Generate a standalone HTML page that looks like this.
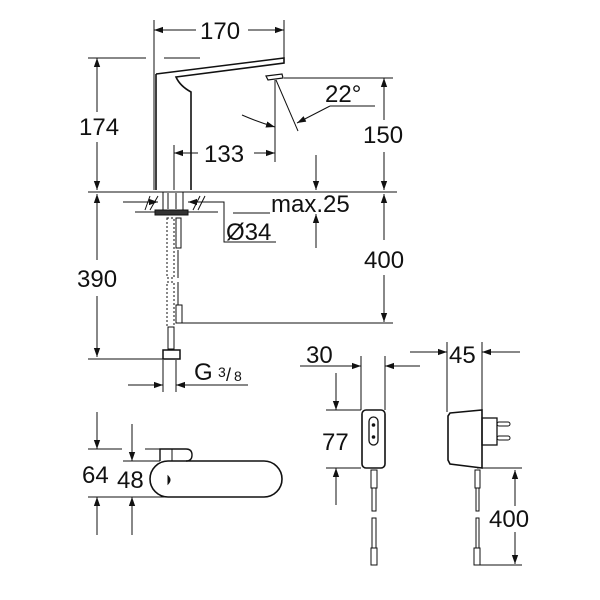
<!DOCTYPE html>
<html><head><style>body{margin:0;background:#fff}svg{display:block}text{font-family:"Liberation Sans",sans-serif;fill:#111}</style></head>
<body>
<svg width="600" height="600" viewBox="0 0 600 600" xmlns="http://www.w3.org/2000/svg">
<defs>
<marker id="a" viewBox="0 0 10 10" refX="10" refY="5" markerWidth="9" markerHeight="9" orient="auto-start-reverse" markerUnits="userSpaceOnUse"><path d="M0,1.5 L10,5 L0,8.5z" fill="#111"/></marker>
</defs>
<g stroke="#111" stroke-width="1" fill="none">
<line x1="154" y1="20" x2="154" y2="190"/><line x1="284" y1="20" x2="284" y2="60"/>
<line x1="154" y1="30" x2="196" y2="30" marker-start="url(#a)"/><line x1="248" y1="30" x2="284" y2="30" marker-end="url(#a)"/>
<path d="M156,74 L284,58 L284,63 L176,77 Q180,86 191,92 L191,190" stroke-width="1.6"/>
<path d="M156,74 L156,190" stroke-width="1.6"/>
<path d="M266,76 L282,74 L283,78 L268,80z" stroke-width="1.2"/>
<line x1="88" y1="58" x2="146" y2="58"/><line x1="164" y1="58" x2="200" y2="58"/>
<line x1="97" y1="58" x2="97" y2="112" marker-start="url(#a)"/><line x1="97" y1="142" x2="97" y2="190" marker-end="url(#a)"/>
<line x1="88" y1="192" x2="397" y2="192"/>
<line x1="284" y1="78" x2="393" y2="78"/>
<line x1="384" y1="78" x2="384" y2="120" marker-start="url(#a)"/><line x1="384" y1="152" x2="384" y2="190" marker-end="url(#a)"/>
<line x1="276" y1="80" x2="298" y2="131"/>
<line x1="375" y1="106" x2="330" y2="106"/><line x1="330" y1="106" x2="297" y2="123" marker-end="url(#a)"/>
<path d="M242,115 Q258,122 275,127" marker-end="url(#a)"/>
<line x1="275" y1="80" x2="275" y2="162"/><line x1="174" y1="145" x2="174" y2="190"/>
<line x1="174" y1="153" x2="198" y2="153" marker-start="url(#a)"/><line x1="254" y1="153" x2="275" y2="153" marker-end="url(#a)"/>
<line x1="316" y1="155" x2="316" y2="190" marker-end="url(#a)"/>
<line x1="316" y1="248" x2="316" y2="214" marker-end="url(#a)"/>
<line x1="233" y1="213" x2="270" y2="213"/>
<line x1="384" y1="194" x2="384" y2="240" marker-start="url(#a)"/><line x1="384" y1="275" x2="384" y2="322" marker-end="url(#a)"/>
<line x1="182" y1="323" x2="393" y2="323"/>
<line x1="97" y1="194" x2="97" y2="260" marker-start="url(#a)"/><line x1="97" y1="296" x2="97" y2="357" marker-end="url(#a)"/>
<line x1="88" y1="359" x2="180" y2="359"/>
<line x1="135" y1="192" x2="210" y2="192"/><line x1="135" y1="212" x2="218" y2="212"/>
<rect x="163" y="192" width="20" height="18"/>
<line x1="168" y1="193" x2="168" y2="209"/><line x1="176" y1="193" x2="176" y2="209"/>
<rect x="155" y="210" width="33" height="5" fill="#333"/>
<line x1="123" y1="202" x2="158" y2="202" marker-end="url(#a)"/>
<line x1="220" y1="202" x2="188" y2="202" marker-end="url(#a)"/>
<path d="M145,210 L150,196 M150,210 L158,196 M193,210 L200,196 M198,210 L205,196"/>
<path d="M205,202 L224,202 L224,242 L276,242"/>
<rect x="167" y="218" width="7" height="60" stroke-dasharray="2,2"/><rect x="167" y="282" width="7" height="45" stroke-dasharray="2,2"/>
<rect x="176" y="218" width="5" height="30"/><line x1="178" y1="250" x2="178" y2="278"/><line x1="178" y1="282" x2="178" y2="305"/>
<rect x="176" y="305" width="6" height="18"/>
<rect x="168" y="327" width="6" height="22"/>
<rect x="163" y="350" width="17" height="9" stroke-width="1.5"/>
<line x1="163" y1="360" x2="163" y2="392"/><line x1="176" y1="360" x2="176" y2="392"/>
<line x1="128" y1="385" x2="163" y2="385" marker-end="url(#a)"/><line x1="248" y1="385" x2="176" y2="385" marker-end="url(#a)"/>
<line x1="88" y1="449" x2="122" y2="449"/><line x1="145" y1="449" x2="160" y2="449"/>
<line x1="123" y1="461" x2="160" y2="461"/>
<line x1="88" y1="497" x2="175" y2="497"/>
<line x1="97" y1="412" x2="97" y2="449" marker-end="url(#a)"/><line x1="97" y1="535" x2="97" y2="497" marker-end="url(#a)"/>
<line x1="132" y1="424" x2="132" y2="461" marker-end="url(#a)"/><line x1="132" y1="535" x2="132" y2="497" marker-end="url(#a)"/>
<rect x="150" y="461" width="132" height="36" rx="18" stroke-width="1.6"/>
<path d="M160,461 L160,449 L186,449 Q192,449 192,455 Q192,461 186,461" stroke-width="1.4"/>
<line x1="172" y1="449" x2="172" y2="461"/>
<path d="M168,476 L168,484 Q172,480 168,476z" fill="#111"/>
<line x1="361" y1="356" x2="361" y2="410"/><line x1="385" y1="356" x2="385" y2="410"/>
<line x1="300" y1="366" x2="361" y2="366" marker-end="url(#a)"/><line x1="420" y1="366" x2="385" y2="366" marker-end="url(#a)"/>
<line x1="326" y1="410" x2="361" y2="410"/><line x1="326" y1="468" x2="361" y2="468"/>
<line x1="336" y1="373" x2="336" y2="410" marker-end="url(#a)"/><line x1="336" y1="505" x2="336" y2="468" marker-end="url(#a)"/>
<rect x="362" y="410" width="23" height="58" rx="4" stroke-width="1.6"/>
<rect x="369" y="417" width="9" height="28" rx="4.5" stroke-width="1.3"/>
<circle cx="373.5" cy="425" r="1.3" fill="#111"/><circle cx="373.5" cy="437" r="1.3" fill="#111"/>
<rect x="371" y="470" width="6" height="18"/>
<rect x="372" y="488" width="4" height="23"/>
<rect x="372" y="518" width="4" height="30"/>
<rect x="371" y="548" width="6" height="17"/>
<line x1="447" y1="342" x2="447" y2="412"/><line x1="482" y1="342" x2="482" y2="412"/>
<line x1="410" y1="352" x2="447" y2="352" marker-end="url(#a)"/><line x1="520" y1="352" x2="482" y2="352" marker-end="url(#a)"/>
<path d="M450,413 L482,410 L482,468 L450,464 L448,460 L448,416z" stroke-width="1.6"/>
<rect x="482" y="418" width="15" height="27" stroke-width="1.3"/>
<rect x="497" y="422" width="13" height="4" rx="2"/><rect x="497" y="436" width="13" height="4" rx="2"/>
<line x1="477" y1="468" x2="522" y2="468"/><line x1="477" y1="565" x2="522" y2="565"/>
<rect x="475" y="470" width="5" height="18"/>
<rect x="476" y="488" width="3" height="23"/><rect x="476" y="518" width="3" height="30"/>
<rect x="474" y="548" width="6" height="17"/>
<line x1="515" y1="470" x2="515" y2="506" marker-start="url(#a)"/><line x1="515" y1="532" x2="515" y2="564" marker-end="url(#a)"/>
</g>
<g font-size="24">
<text x="200" y="39">170</text>
<text x="79" y="135">174</text>
<text x="363" y="143">150</text>
<text x="325" y="102">22°</text>
<text x="204" y="162">133</text>
<text x="271" y="212">max.25</text>
<text x="226" y="240">Ø34</text>
<text x="364" y="268">400</text>
<text x="77" y="287">390</text>
<text x="194" y="380">G</text>
<text x="218" y="377" font-size="14">3</text><text x="226" y="381" font-size="18">/</text><text x="234" y="381" font-size="14">8</text>
<text x="82" y="483">64</text>
<text x="117" y="488">48</text>
<text x="306" y="363">30</text>
<text x="449" y="363">45</text>
<text x="322" y="450">77</text>
<text x="489" y="527">400</text>
</g>
</svg>
</body></html>
